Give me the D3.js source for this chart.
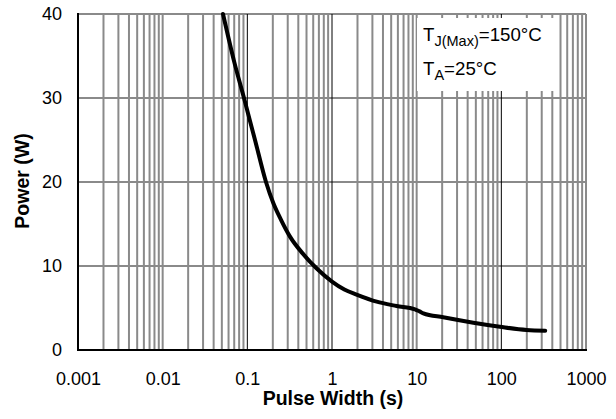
<!DOCTYPE html>
<html>
<head>
<meta charset="utf-8">
<script src="https://cdn.jsdelivr.net/npm/d3@7"></script>
<style>
  html, body { margin: 0; padding: 0; background: #fff; }
  svg { display: block; font-family: "Liberation Sans", Arial, sans-serif; }
</style>
</head>
<body>
<svg id="chart" width="616" height="419"></svg>
<script>
// ---- data ----
const pulseWidth = [0.0516, 0.07, 0.0913, 0.1232, 0.1661, 0.2025, 0.25, 0.319, 0.45, 0.66, 1, 1.4, 1.95, 3.37, 5.8, 9.55, 10.8, 12, 20.6, 46.7, 96, 199, 330];
const power      = [40, 34.3, 30, 25, 20, 17.5, 15.5, 13.5, 11.5, 9.7, 8.15, 7.2, 6.6, 5.75, 5.24, 4.84, 4.6, 4.37, 3.89, 3.25, 2.77, 2.38, 2.3];
const xTicks = [0.001, 0.01, 0.1, 1, 10, 100, 1000];
const xTickLabels = ["0.001", "0.01", "0.1", "1", "10", "100", "1000"];
const yTicks = [0, 10, 20, 30, 40];
const blackDecades = [0.1, 1, 100];
const xTitle = "Pulse Width (s)";
const yTitle = "Power (W)";

// ---- layout ----
const W = 616, H = 419;
const m = { left: 78, right: 30, top: 14, bottom: 69 };
const x0 = m.left, x1 = W - m.right, y0 = H - m.bottom, y1 = m.top;
const gray = "#8a8a8a";

const svg = d3.select("#chart");
const x = d3.scaleLog().domain([0.001, 1000]).range([x0, x1]);
const y = d3.scaleLinear().domain([0, 40]).range([y0, y1]);

// minor + major vertical gridlines
const vLines = [];
for (let e = -3; e < 3; e++) {
  for (let k = 1; k <= 9; k++) {
    const v = k * Math.pow(10, e);
    if (v > 0.001) vLines.push(v);
  }
}
vLines.push(1000);
const grid = svg.append("g");
grid.selectAll("line.v").data(vLines.filter(v => !blackDecades.some(b => Math.abs(b - v) / b < 1e-9)))
  .join("line").attr("class", "v")
  .attr("x1", d => x(d)).attr("x2", d => x(d))
  .attr("y1", y0).attr("y2", y1)
  .attr("stroke", gray).attr("stroke-width", 2);
grid.selectAll("line.h").data(yTicks.filter(d => d > 0))
  .join("line").attr("class", "h")
  .attr("x1", x0).attr("x2", x1)
  .attr("y1", d => y(d)).attr("y2", d => y(d))
  .attr("stroke", gray).attr("stroke-width", 2);
grid.selectAll("line.b").data(blackDecades)
  .join("line").attr("class", "b")
  .attr("x1", d => x(d)).attr("x2", d => x(d))
  .attr("y1", y0).attr("y2", y1)
  .attr("stroke", "#000").attr("stroke-width", 1);

// axes lines
svg.append("line").attr("x1", x0).attr("x2", x0).attr("y1", y1 - 1).attr("y2", y0 + 1)
  .attr("stroke", "#000").attr("stroke-width", 2);
svg.append("line").attr("x1", x0 - 1).attr("x2", x1 + 1).attr("y1", y0).attr("y2", y0)
  .attr("stroke", "#000").attr("stroke-width", 2);

// legend box
const leg = svg.append("g");
leg.append("rect").attr("x", 417).attr("y", 18).attr("width", 141).attr("height", 73).attr("fill", "#fff");
const t1 = leg.append("text").attr("x", 423).attr("y", 41).attr("font-size", 18.7).attr("fill", "#000");
t1.append("tspan").text("T");
t1.append("tspan").attr("font-size", 14.5).attr("dy", 5).text("J(Max)");
t1.append("tspan").attr("dy", -5).text("=150°C");
const t2 = leg.append("text").attr("x", 423).attr("y", 75).attr("font-size", 18.7).attr("fill", "#000");
t2.append("tspan").text("T");
t2.append("tspan").attr("font-size", 14.5).attr("dy", 5).text("A");
t2.append("tspan").attr("dy", -5).text("=25°C");

// curve
const data = pulseWidth.map((t, i) => ({ t, p: power[i] }));
const line = d3.line().x(d => x(d.t)).y(d => y(d.p)).curve(d3.curveMonotoneX);
svg.append("path").datum(data).attr("d", line)
  .attr("fill", "none").attr("stroke", "#000").attr("stroke-width", 4)
  .attr("stroke-linejoin", "round").attr("stroke-linecap", "round");

// axes tick labels via d3 axes
const xAxis = d3.axisBottom(x).tickValues(xTicks).tickFormat((d, i) => xTickLabels[i]).tickSize(0).tickPadding(22);
const gx = svg.append("g").attr("transform", `translate(0,${y0})`).call(xAxis);
gx.select(".domain").remove();
gx.selectAll("text").attr("font-size", 18).attr("font-family", '"Liberation Sans", Arial, sans-serif').attr("fill", "#000");

const yAxis = d3.axisLeft(y).tickValues(yTicks).tickFormat(d3.format("d")).tickSize(0).tickPadding(16);
const gy = svg.append("g").attr("transform", `translate(${x0},0)`).call(yAxis);
gy.select(".domain").remove();
gy.selectAll("text").attr("font-size", 18).attr("font-family", '"Liberation Sans", Arial, sans-serif').attr("fill", "#000");

// titles
svg.append("text").attr("x", (x0 + x1) / 2 + 1).attr("y", 405)
  .attr("text-anchor", "middle").attr("font-size", 19.5).attr("font-weight", "bold").text(xTitle);
svg.append("text").attr("transform", `translate(29,181) rotate(-90)`)
  .attr("text-anchor", "middle").attr("font-size", 19.5).attr("font-weight", "bold").text(yTitle);
</script>
</body>
</html>
